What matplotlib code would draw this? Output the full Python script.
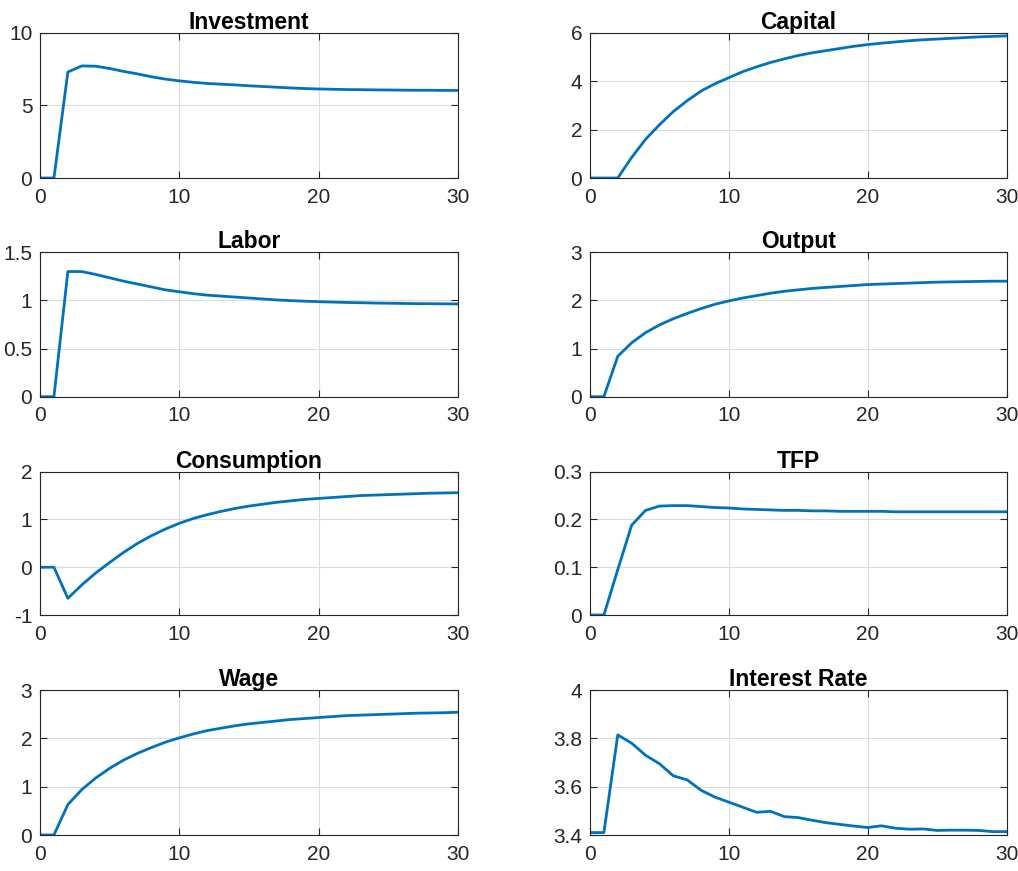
import numpy as np
import matplotlib.pyplot as plt
from matplotlib.ticker import FormatStrFormatter

plt.rcParams.update({'font.family': 'Liberation Sans'})
plt.rcParams.update({'axes.unicode_minus': False})

# impulse responses, periods 0..30
t = np.arange(31)

investment = [0, 0, 7.31, 7.73, 7.71, 7.55, 7.35, 7.18, 6.98, 6.82, 6.70, 6.60, 6.52,
              6.47, 6.42, 6.36, 6.31, 6.26, 6.21, 6.17, 6.14, 6.12, 6.10, 6.09, 6.08,
              6.07, 6.06, 6.05, 6.05, 6.04, 6.04]
capital = [0, 0, 0, 0.85, 1.60, 2.20, 2.75, 3.20, 3.60, 3.90, 4.15, 4.40, 4.60, 4.78,
           4.93, 5.07, 5.18, 5.27, 5.36, 5.45, 5.52, 5.58, 5.63, 5.68, 5.72, 5.75,
           5.78, 5.81, 5.84, 5.86, 5.88]
labor = [0, 0, 1.30, 1.30, 1.27, 1.235, 1.20, 1.17, 1.14, 1.11, 1.09, 1.07, 1.055,
         1.045, 1.035, 1.025, 1.015, 1.005, 0.998, 0.992, 0.987, 0.983, 0.979, 0.976,
         0.973, 0.971, 0.969, 0.967, 0.966, 0.965, 0.963]
output = [0, 0, 0.84, 1.12, 1.33, 1.49, 1.62, 1.73, 1.83, 1.92, 1.99, 2.05, 2.10, 2.15,
          2.19, 2.22, 2.25, 2.27, 2.29, 2.31, 2.33, 2.34, 2.35, 2.36, 2.37, 2.38,
          2.385, 2.39, 2.395, 2.40, 2.40]
consumption = [0, 0, -0.65, -0.37, -0.12, 0.10, 0.31, 0.50, 0.66, 0.80, 0.92, 1.02,
               1.10, 1.17, 1.23, 1.28, 1.32, 1.36, 1.39, 1.42, 1.44, 1.46, 1.48, 1.50,
               1.51, 1.52, 1.53, 1.54, 1.55, 1.555, 1.56]
tfp = [0, 0, 0.095, 0.188, 0.219, 0.228, 0.229, 0.229, 0.227, 0.225, 0.224, 0.222,
       0.221, 0.220, 0.219, 0.219, 0.218, 0.218, 0.217, 0.217, 0.217, 0.217, 0.216,
       0.216, 0.216, 0.216, 0.216, 0.216, 0.216, 0.216, 0.216]
wage = [0, 0, 0.63, 0.94, 1.18, 1.38, 1.55, 1.69, 1.81, 1.92, 2.01, 2.09, 2.16, 2.21,
        2.26, 2.30, 2.33, 2.36, 2.39, 2.41, 2.43, 2.45, 2.47, 2.48, 2.49, 2.50, 2.51,
        2.52, 2.525, 2.53, 2.54]
interest = [3.41, 3.41, 3.814, 3.78, 3.73, 3.695, 3.645, 3.628, 3.585, 3.557, 3.536,
            3.515, 3.494, 3.498, 3.476, 3.472, 3.461, 3.451, 3.444, 3.437, 3.431,
            3.438, 3.428, 3.424, 3.425, 3.419, 3.42, 3.42, 3.419, 3.414, 3.414]

titles = ['Investment', 'Capital', 'Labor', 'Output',
          'Consumption', 'TFP', 'Wage', 'Interest Rate']
series = [investment, capital, labor, output, consumption, tfp, wage, interest]
yticks = [[0, 5, 10], [0, 2, 4, 6], [0, 0.5, 1, 1.5], [0, 1, 2, 3],
          [-1, 0, 1, 2], [0, 0.1, 0.2, 0.3], [0, 1, 2, 3], [3.4, 3.6, 3.8, 4]]

W, H = 1018, 871
fig = plt.figure(figsize=(W/100, H/100), dpi=100, facecolor='w')

cols = [(40, 458), (590, 1006.5)]
rows = [(33, 178), (252.3, 396.7), (471.7, 615), (690, 835)]

for i in range(8):
    r, c = divmod(i, 2)
    x0, x1 = cols[c]
    y0, y1 = rows[r]
    ax = fig.add_axes([x0/W, 1 - y1/H, (x1 - x0)/W, (y1 - y0)/H])
    ax.plot(t, series[i], color='#0072BD', lw=2)
    ax.set_xlim(0, 30)
    ax.set_ylim(yticks[i][0], yticks[i][-1])
    ax.set_xticks([0, 10, 20, 30])
    ax.set_yticks(yticks[i])
    ax.yaxis.set_major_formatter(FormatStrFormatter('%g'))
    ax.grid(True, color='#dcdcdc', lw=0.8)
    ax.set_axisbelow(True)
    for s in ax.spines.values():
        s.set_color('#262626')
        s.set_linewidth(0.8)
    ax.tick_params(direction='in', length=5, width=0.8, top=True, right=True,
                   labelsize=15, colors='#262626', labelcolor='#262626')
    ax.tick_params(axis='x', pad=7)
    ax.tick_params(axis='y', pad=5.5)
    ax.set_title(titles[i], fontsize=16.5, fontweight='bold', pad=3)

plt.savefig('out.png', dpi=100)
